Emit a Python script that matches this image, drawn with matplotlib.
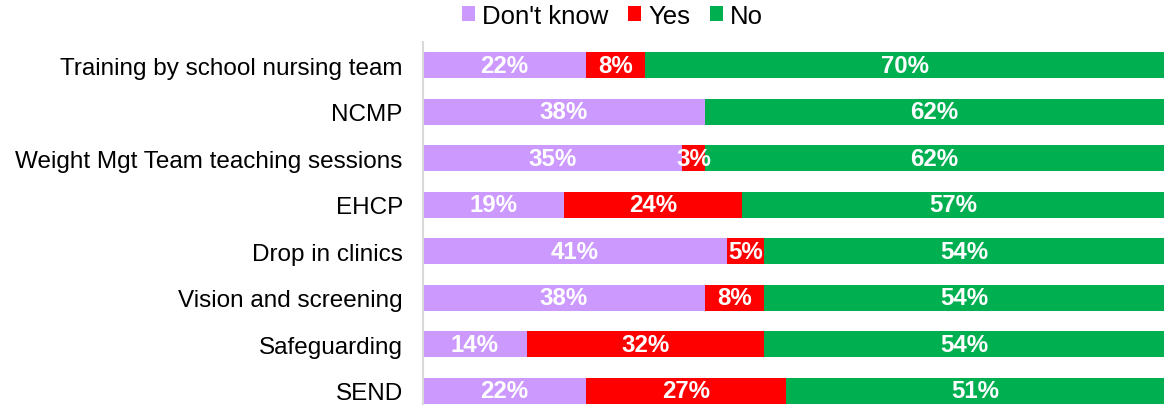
import matplotlib
matplotlib.use("Agg")
import matplotlib.pyplot as plt
import numpy as np

plt.rcParams["font.family"] = ["Liberation Sans", "DejaVu Sans"]

categories = [
    "Training by school nursing team",
    "NCMP",
    "Weight Mgt Team teaching sessions",
    "EHCP",
    "Drop in clinics",
    "Vision and screening",
    "Safeguarding",
    "SEND",
]
dont_know = [22, 38, 35, 19, 41, 38, 14, 22]
yes = [8, 0, 3, 24, 5, 8, 32, 27]
no = [70, 62, 62, 57, 54, 54, 54, 51]

series = [("Don't know", dont_know, "#CC99FF"),
          ("Yes", yes, "#FF0000"),
          ("No", no, "#00B050")]

W, H, DPI = 1175, 406, 100
fig = plt.figure(figsize=(W / DPI, H / DPI), dpi=DPI)
ax = fig.add_axes([423 / W, -9 / H, 741 / W, 372 / H])

y = np.arange(len(categories))
left = np.zeros(len(categories))
for name, vals, color in series:
    vals = np.array(vals, dtype=float)
    bars = ax.barh(y, vals, left=left, height=0.56, color=color, label=name)
    for b, v in zip(bars, vals):
        if v > 0:
            ax.text(b.get_x() + b.get_width() / 2, b.get_y() + b.get_height() / 2,
                    f"{v:.0f}%", ha="center", va="center", color="white",
                    fontsize=17.3, fontweight="bold")
    left += vals

ax.set_xlim(0, 100)
ax.set_ylim(len(categories) - 0.5, -0.5)
ax.set_yticks(y)
ax.set_yticklabels(categories, fontsize=17.5)
ax.tick_params(axis="y", length=0, pad=14.5)
ax.set_xticks([])
for s in ["top", "right", "bottom"]:
    ax.spines[s].set_visible(False)
ax.spines["left"].set_color("#D9D9D9")
ax.spines["left"].set_linewidth(1.5)

fig.legend(loc="center", bbox_to_anchor=(612.5 / W, 1 - 17 / H), ncol=3,
           frameon=False, fontsize=18.5, handlelength=0.52, handleheight=0.52,
           handletextpad=0.28, columnspacing=0.75, borderpad=0)

fig.savefig("out.png", dpi=DPI)
